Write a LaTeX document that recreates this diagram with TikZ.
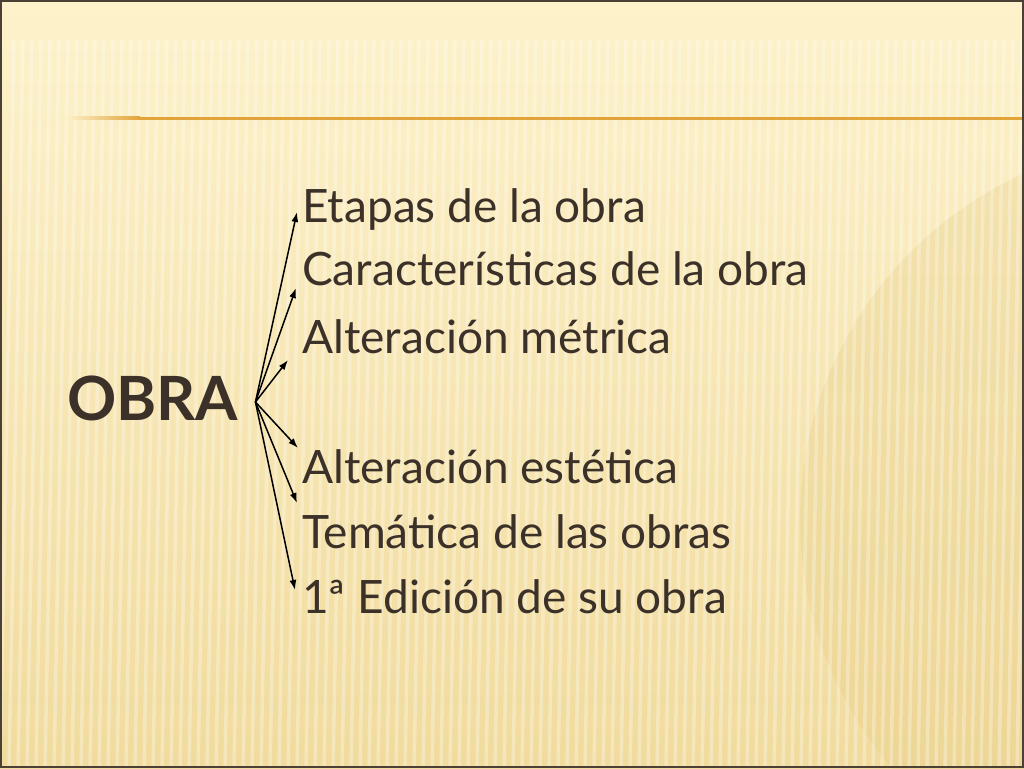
\documentclass[tikz,border=0pt]{standalone}
\usepackage{fontspec}
\setmainfont{Lato}
\usetikzlibrary{calc}
\usetikzlibrary{arrows.meta}

\definecolor{slidetop}{HTML}{FDF2CB}
\definecolor{slidebot}{HTML}{F1DB9D}
\definecolor{ink}{HTML}{3B3129}
\definecolor{rulecol}{HTML}{E2A43A}
\definecolor{framecol}{HTML}{4A4036}
\definecolor{ghostcol}{HTML}{E6CC84}

\tikzset{
  item/.style={anchor=base west, inner sep=0pt, text=ink, font=\fontsize{46}{56}\selectfont},
  stripe/.style={white, opacity=.3, line width=3.5pt},
  pfeil/.style={-{Latex[length=10pt,width=7pt]}, line width=1.5pt},
}

\begin{document}
\begin{tikzpicture}[x=1pt,y=-1pt]
    \useasboundingbox (0,0) rectangle (1024,768);
    % Hintergrund
    \shade[top color=slidetop, bottom color=slidebot] (0,0) rectangle (1024,768);
    \begin{scope}
        \clip (0,0) rectangle (1024,768);
        \fill[ghostcol, opacity=.3] (1180,520) circle (380);
        \foreach \sx in {0,9,...,1040}
            \draw[stripe] (\sx+14,40) -- (\sx,768);
    \end{scope}
    \shade[left color=slidetop, right color=rulecol] (65,116.5) rectangle (140,119.5);
    \fill[rulecol] (140,116.5) rectangle (1024,119.5);
    \draw[framecol, line width=2pt] (1,1) rectangle (1023,767);

    \node[item, font=\fontsize{61}{70}\bfseries] at (67,420) (obra) {OBRA};
    \node[item] at (302,222) (etapas) {Etapas de la obra};
    \node[item] at (302,285) (caracter) {Características de la obra};
    \node[item] at (302,353) (metrica) {Alteración métrica};
    \node[item] at (302,483) (estetica) {Alteración estética};
    \node[item] at (302,548) (tematica) {Temática de las obras};
    \node[item] at (302,613) (edicion) {1ª Edición de su obra};

    \coordinate (hub) at ($(obra.base east)+(17,-18)$);
    \draw[pfeil] (hub) -- ($(etapas.base west)+(-5,-10)$);
    \draw[pfeil] (hub) -- ($(caracter.base west)+(-6,3)$);
    \draw[pfeil] (hub) -- ($(metrica.base west)+(-14,7)$);
    \draw[pfeil] (hub) -- ($(estetica.base west)+(-4,-35)$);
    \draw[pfeil] (hub) -- ($(tematica.base west)+(-5,-45)$);
    \draw[pfeil] (hub) -- ($(edicion.base west)+(-7,-23)$);
\end{tikzpicture}
\end{document}
